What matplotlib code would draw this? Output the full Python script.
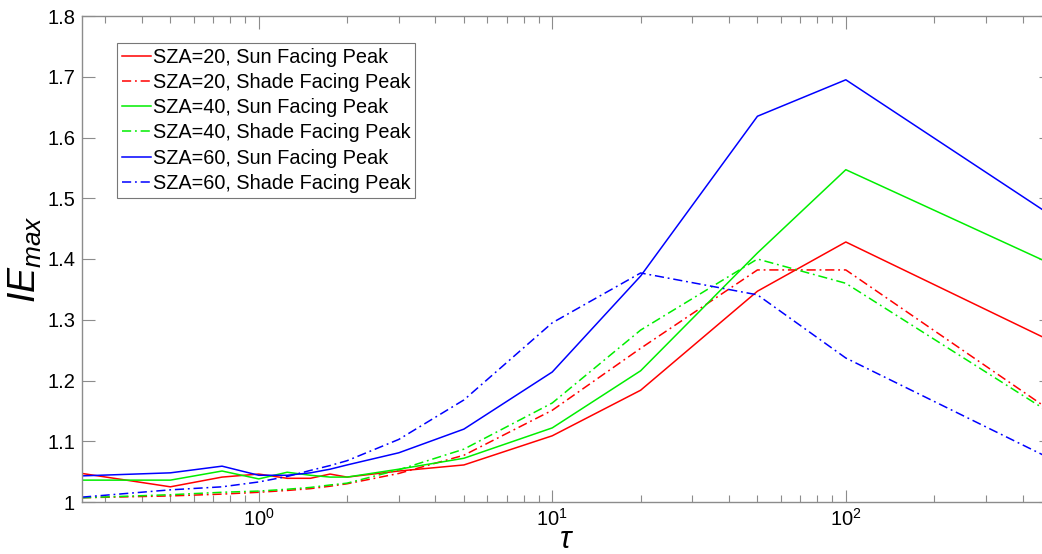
import matplotlib
matplotlib.use("Agg")
import matplotlib.pyplot as plt
from matplotlib.ticker import LogLocator, NullFormatter, FixedLocator

plt.rcParams['font.family'] = ['Liberation Sans', 'DejaVu Sans']
plt.rcParams['mathtext.fontset'] = 'custom'
plt.rcParams['mathtext.it'] = 'Liberation Sans:italic'
plt.rcParams['mathtext.rm'] = 'Liberation Sans'

tau = [0.25, 0.5, 0.75, 1, 1.25, 1.5, 1.75, 2, 3, 5, 10, 20, 50, 100, 500]

sza20_sun = [1.047, 1.025, 1.041, 1.046, 1.039, 1.039, 1.046, 1.041, 1.051, 1.061, 1.109, 1.184, 1.347, 1.428, 1.265]
sza20_shade = [1.007, 1.010, 1.013, 1.016, 1.019, 1.022, 1.026, 1.030, 1.047, 1.077, 1.151, 1.253, 1.382, 1.382, 1.150]
sza40_sun = [1.036, 1.036, 1.051, 1.038, 1.049, 1.044, 1.041, 1.041, 1.054, 1.072, 1.122, 1.216, 1.410, 1.547, 1.392]
sza40_shade = [1.007, 1.012, 1.016, 1.018, 1.021, 1.024, 1.028, 1.031, 1.053, 1.087, 1.163, 1.283, 1.400, 1.360, 1.146]
sza60_sun = [1.043, 1.048, 1.059, 1.044, 1.044, 1.048, 1.054, 1.061, 1.081, 1.120, 1.214, 1.372, 1.635, 1.695, 1.472]
sza60_shade = [1.008, 1.020, 1.025, 1.033, 1.042, 1.052, 1.060, 1.068, 1.103, 1.168, 1.295, 1.377, 1.341, 1.237, 1.071]

labels = ["SZA=20, Sun Facing Peak", "SZA=20, Shade Facing Peak",
          "SZA=40, Sun Facing Peak", "SZA=40, Shade Facing Peak",
          "SZA=60, Sun Facing Peak", "SZA=60, Shade Facing Peak"]
yticks = [1, 1.1, 1.2, 1.3, 1.4, 1.5, 1.6, 1.7, 1.8]
ytick_labels = ["1", "1.1", "1.2", "1.3", "1.4", "1.5", "1.6", "1.7", "1.8"]

W, H = 1042, 554
fig = plt.figure(figsize=(W / 100, H / 100), dpi=100)
ax = fig.add_axes([82 / W, (H - 502) / H, (1051 - 82) / W, (502 - 16) / H])

series = [sza20_sun, sza20_shade, sza40_sun, sza40_shade, sza60_sun, sza60_shade]
colors = ['#ff0000', '#ff0000', '#00ee00', '#00ee00', '#0000ff', '#0000ff']
styles = ['-', '-.', '-', '-.', '-', '-.']
for s, c, ls, lab in zip(series, colors, styles, labels):
    ax.plot(tau, s, color=c, linestyle=ls, lw=1.1, label=lab,
            dashes=(6, 2.5, 1.2, 2.5) if ls == '-.' else (None, None))

ax.set_xscale('log')
ax.set_xlim(0.25, 500)
ax.set_ylim(1, 1.8)
ax.yaxis.set_major_locator(FixedLocator(yticks))
ax.set_yticklabels(ytick_labels)
ax.xaxis.set_major_locator(LogLocator(base=10, numticks=10))
ax.xaxis.set_minor_locator(LogLocator(base=10, subs=range(2, 10), numticks=20))
ax.xaxis.set_minor_formatter(NullFormatter())

for sp in ax.spines.values():
    sp.set_color('#8c8c8c')
    sp.set_linewidth(1.0)
ax.tick_params(which='both', direction='in', top=True, right=True, colors='#8c8c8c',
               labelcolor='black', labelsize=14.5)
ax.tick_params(which='major', length=9, width=0.8)
ax.tick_params(which='minor', length=5, width=0.8)
ax.tick_params(axis='y', which='major', pad=5)
ax.tick_params(axis='x', which='major', pad=4)

ax.set_xlabel(r'$\tau$', fontsize=22, labelpad=-3)
ax.set_ylabel(r'$IE_{max}$', fontsize=27, labelpad=2)

leg = ax.legend(loc='upper left', bbox_to_anchor=(35 / (1051 - 82), 1 - 27 / 486),
                fontsize=14.3, frameon=True, fancybox=False, handlelength=1.45,
                handletextpad=0.1, labelspacing=0.31, borderpad=0.25, borderaxespad=0)
leg.get_frame().set_edgecolor('#555555')
leg.get_frame().set_linewidth(0.8)

fig.savefig('out.png', dpi=100)
